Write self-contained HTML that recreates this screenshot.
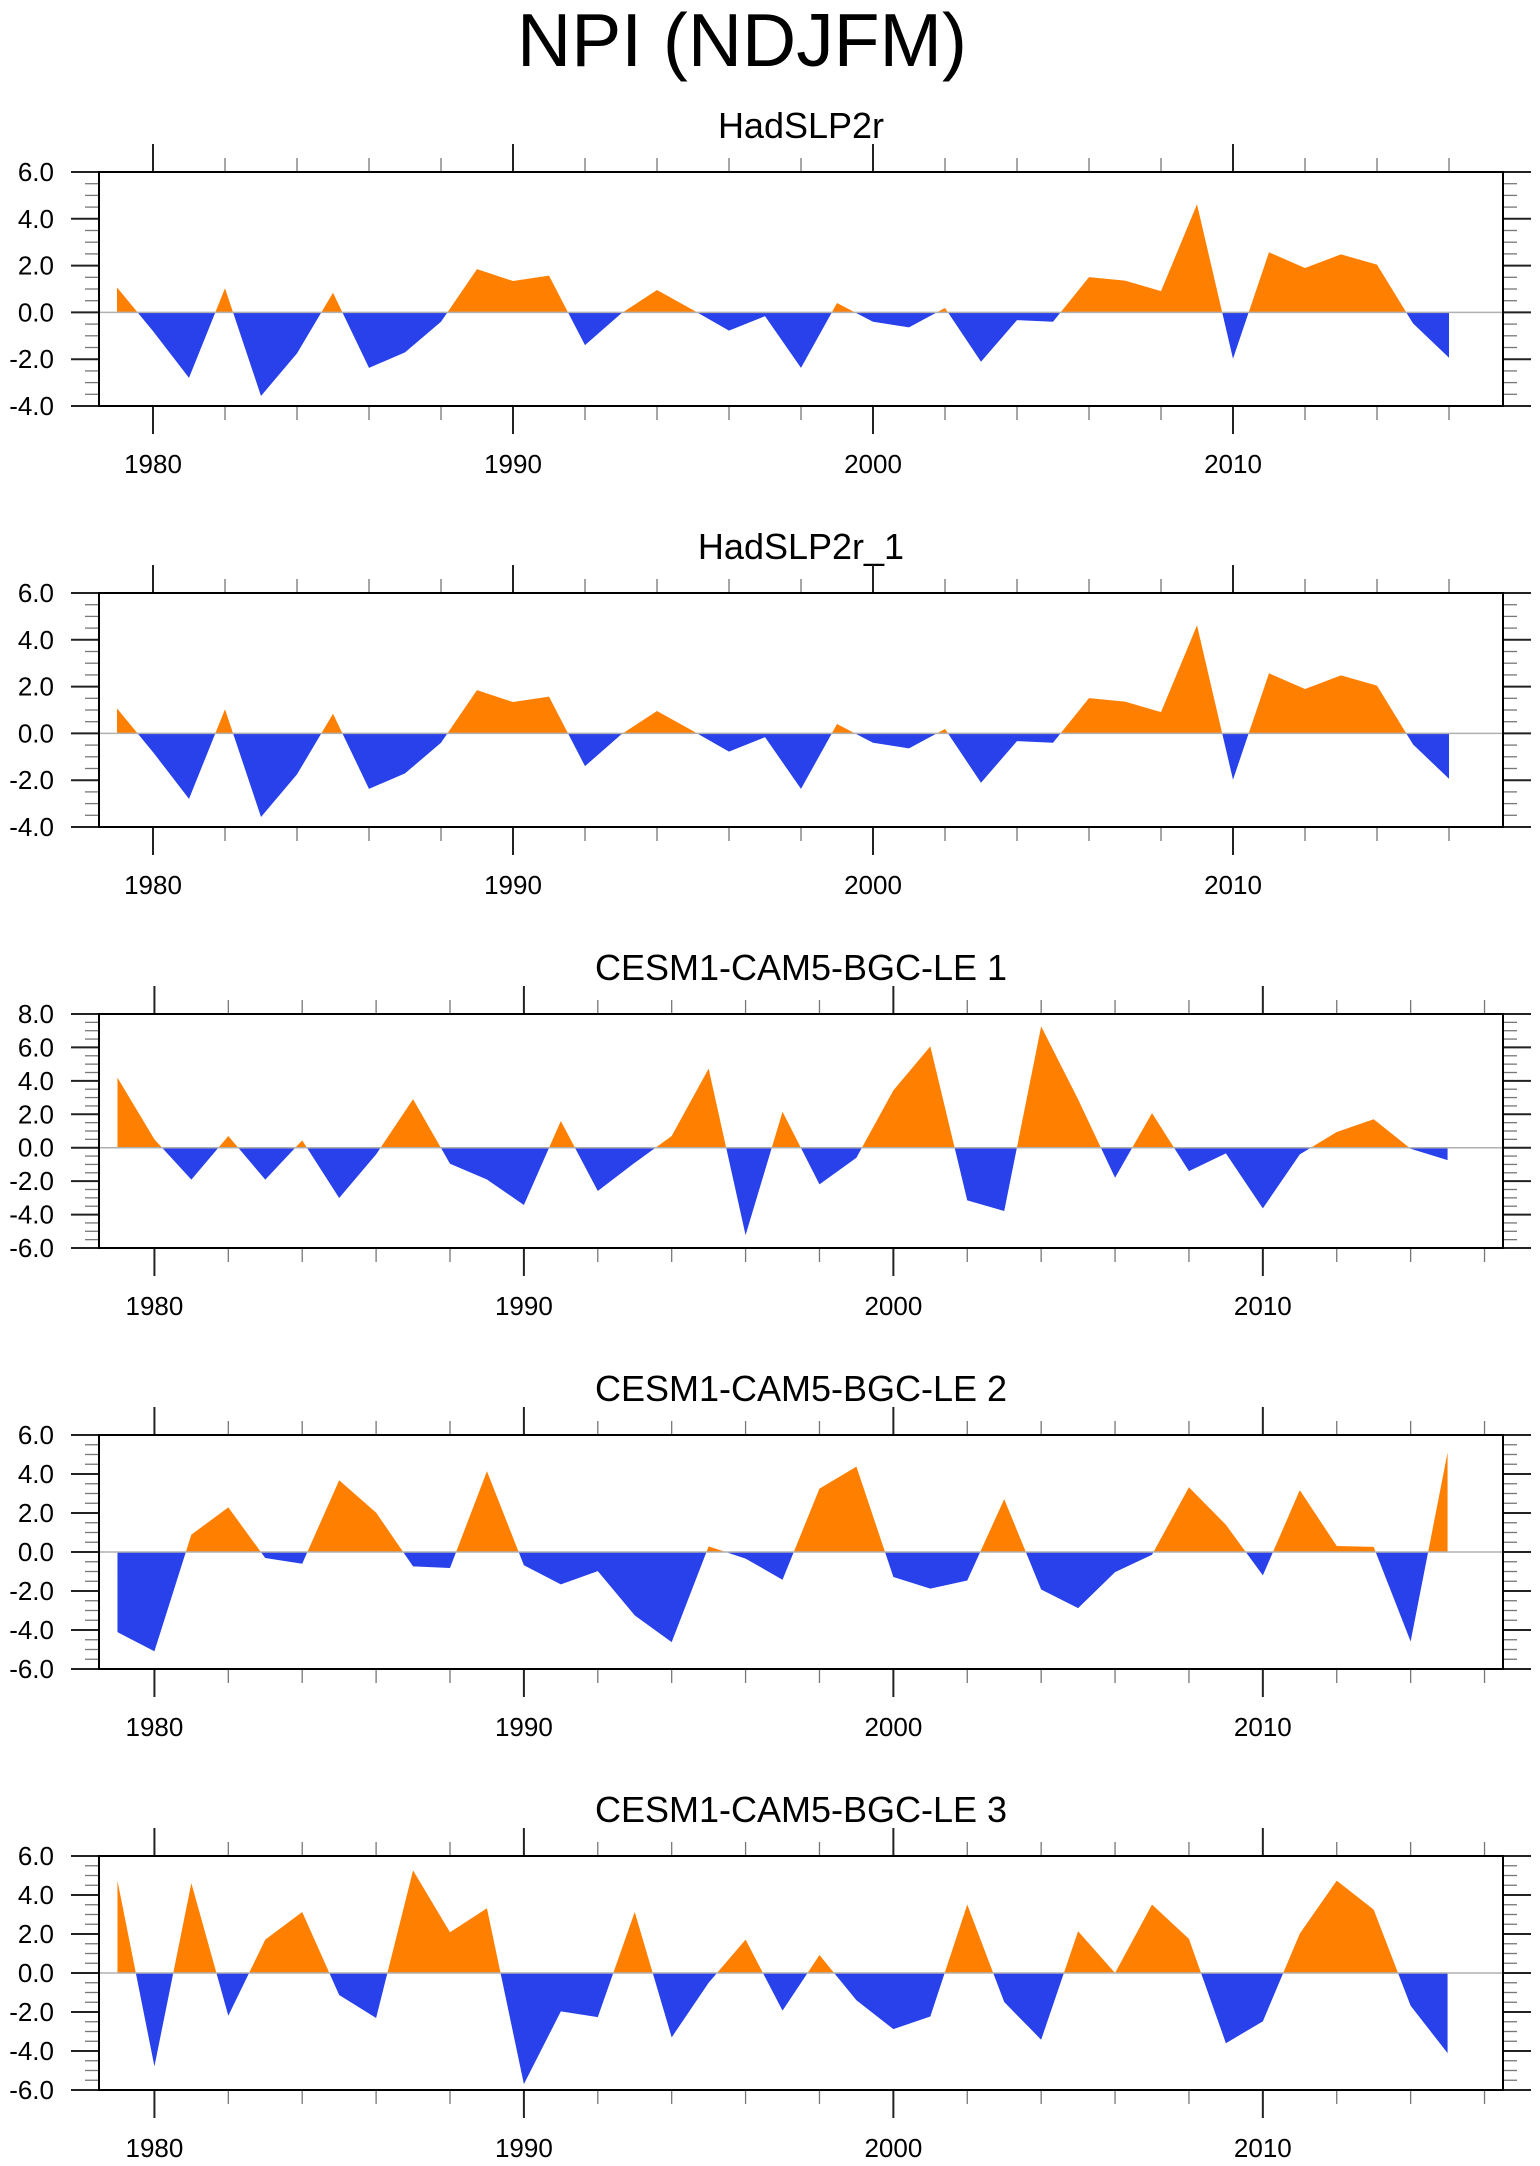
<!DOCTYPE html>
<html><head><meta charset="utf-8"><title>NPI (NDJFM)</title>
<style>html,body{margin:0;padding:0;background:#fff;}svg{display:block;font-family:"Liberation Sans",Arial,sans-serif;}</style>
</head><body>
<svg id="chart" width="1540" height="2166" viewBox="0 0 1540 2166" xmlns="http://www.w3.org/2000/svg">
<text x="742" y="66" font-size="75" text-anchor="middle">NPI (NDJFM)</text>
</svg>
<script>
const hadYears = [1979,1980,1981,1982,1983,1984,1985,1986,1987,1988,1989,1990,1991,1992,1993,1994,1995,1996,1997,1998,1999,2000,2001,2002,2003,2004,2005,2006,2007,2008,2009,2010,2011,2012,2013,2014,2015,2016];
const hadValues = [1.07,-0.8,-2.8,1.03,-3.57,-1.75,0.84,-2.37,-1.71,-0.4,1.85,1.34,1.57,-1.4,-0.05,0.96,0.1,-0.78,-0.16,-2.37,0.4,-0.4,-0.64,0.19,-2.11,-0.33,-0.4,1.51,1.36,0.91,4.62,-1.98,2.57,1.9,2.48,2.04,-0.47,-1.94];
const cesmYears = [1979,1980,1981,1982,1983,1984,1985,1986,1987,1988,1989,1990,1991,1992,1993,1994,1995,1996,1997,1998,1999,2000,2001,2002,2003,2004,2005,2006,2007,2008,2009,2010,2011,2012,2013,2014,2015];
const cesm1Values = [4.19,0.5,-1.91,0.7,-1.91,0.44,-3.01,-0.4,2.91,-0.96,-1.9,-3.43,1.6,-2.59,-0.9,0.7,4.73,-5.23,2.15,-2.19,-0.6,3.43,6.06,-3.15,-3.79,7.26,2.89,-1.8,2.07,-1.4,-0.34,-3.63,-0.4,0.94,1.7,-0.06,-0.74];
const cesm2Values = [-4.11,-5.09,0.89,2.29,-0.31,-0.6,3.68,2.02,-0.74,-0.82,4.14,-0.68,-1.66,-0.98,-3.25,-4.62,0.29,-0.34,-1.42,3.25,4.38,-1.28,-1.88,-1.46,2.71,-1.92,-2.88,-1.03,-0.14,3.32,1.4,-1.2,3.17,0.31,0.26,-4.59,5.1];
const cesm3Values = [4.73,-4.79,4.61,-2.19,1.71,3.13,-1.13,-2.31,5.26,2.09,3.32,-5.7,-1.97,-2.26,3.13,-3.3,-0.5,1.71,-1.93,0.92,-1.4,-2.88,-2.23,3.51,-1.49,-3.42,2.14,0.0,3.51,1.75,-3.6,-2.48,2.02,4.74,3.25,-1.68,-4.11];
const panelTitles = ["HadSLP2r","HadSLP2r_1","CESM1-CAM5-BGC-LE 1","CESM1-CAM5-BGC-LE 2","CESM1-CAM5-BGC-LE 3"];
const yTickLabels1 = ["-4.0","-2.0","0.0","2.0","4.0","6.0"];
const yTickLabels3 = ["-6.0","-4.0","-2.0","0.0","2.0","4.0","6.0","8.0"];
const yTickLabels4 = ["-6.0","-4.0","-2.0","0.0","2.0","4.0","6.0"];
const xTickLabels = ["1980","1990","2000","2010"];

const NS = "http://www.w3.org/2000/svg";
const svg = document.getElementById('chart');
function mk(tag, attrs, parent){const e=document.createElementNS(NS,tag);for(const k in attrs)e.setAttribute(k,attrs[k]);(parent||svg).appendChild(e);return e;}

const L=99, R=1503, H=234;
const panels = [
 {top:172, years:hadYears, vals:hadValues, ymin:-4, ymax:6, labels:yTickLabels1, xmax:2017.5},
 {top:593, years:hadYears, vals:hadValues, ymin:-4, ymax:6, labels:yTickLabels1, xmax:2017.5},
 {top:1014, years:cesmYears, vals:cesm1Values, ymin:-6, ymax:8, labels:yTickLabels3, xmax:2016.5},
 {top:1435, years:cesmYears, vals:cesm2Values, ymin:-6, ymax:6, labels:yTickLabels4, xmax:2016.5},
 {top:1856, years:cesmYears, vals:cesm3Values, ymin:-6, ymax:6, labels:yTickLabels4, xmax:2016.5}
];

panels.forEach((p,i)=>{
  const g = mk('g',{});
  
  
  const T=p.top, B=T+H, xmin=1978.5;
  const xs = v => L + (v-xmin)/(p.xmax-xmin)*(R-L);
  const ys = v => B - (v-p.ymin)/(p.ymax-p.ymin)*H;
  const t = mk('text',{x:801,y:T-34,'font-size':36,'text-anchor':'middle'},g);
  t.textContent = panelTitles[i];
  
  
  const y0 = ys(0);
  const cu = mk('clipPath',{id:'cu'+i},g); mk('rect',{x:L,y:T,width:R-L,height:y0-T},cu);
  const cd = mk('clipPath',{id:'cd'+i},g); mk('rect',{x:L,y:y0,width:R-L,height:B-y0},cd);
  let d = 'M'+xs(p.years[0])+','+y0;
  p.years.forEach((yr,k)=>{ d+=' L'+xs(yr).toFixed(2)+','+ys(p.vals[k]).toFixed(2); });
  d += ' L'+xs(p.years[p.years.length-1])+','+y0+' Z';
  const pos = mk('path',{d:d,fill:'#ff8000','clip-path':'url(#cu'+i+')'},g);
  
  
  const neg = mk('path',{d:d,fill:'#2841eb','clip-path':'url(#cd'+i+')'},g);
  
  
  const zl = mk('line',{x1:L,x2:R,y1:y0,y2:y0,stroke:'#b0b0b0','stroke-width':1.5},g);
  
  
  for(let v=p.ymin; v<=p.ymax+1e-9; v+=0.5){
    const yy=ys(v), major=Math.abs(v/2-Math.round(v/2))<1e-9;
    const len = major?28:14;
    mk('line',{x1:L-len,x2:L,y1:yy,y2:yy,stroke:major?'#222':'#777','stroke-width':major?2:1.3},g);
    mk('line',{x1:R,x2:R+len,y1:yy,y2:yy,stroke:major?'#222':'#777','stroke-width':major?2:1.3},g);
  }
  p.labels.forEach((lab,k)=>{
    const v = p.ymin + 2*k;
    const tl = mk('text',{x:54,y:ys(v)+9,'font-size':26,'text-anchor':'end'},g);
    tl.textContent = lab;
    
    
  });
  for(let yr=1980; yr<p.xmax; yr+=2){
    const xx=xs(yr), major=yr%10===0, len=major?28:14;
    mk('line',{x1:xx,x2:xx,y1:T-len,y2:T,stroke:major?'#222':'#777','stroke-width':major?2:1.3},g);
    mk('line',{x1:xx,x2:xx,y1:B,y2:B+len,stroke:major?'#222':'#777','stroke-width':major?2:1.3},g);
  }
  xTickLabels.forEach(lab=>{
    const tl = mk('text',{x:xs(+lab),y:B+67,'font-size':26,'text-anchor':'middle'},g);
    tl.textContent = lab;
    
    
  });
  const fr = mk('rect',{x:L,y:T,width:R-L,height:H,fill:'none',stroke:'#000','stroke-width':2},g);
  
  
});
</script>
</body></html>
